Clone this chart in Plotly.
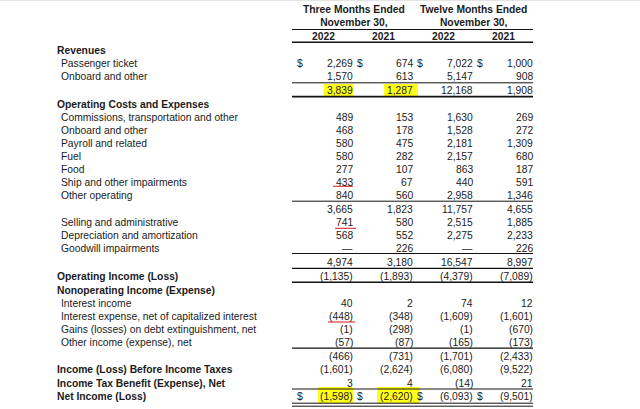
import plotly.graph_objects as go

# ---------------- data ----------------
row_labels = [
    "Revenues", "Passenger ticket", "Onboard and other", "",
    "Operating Costs and Expenses", "Commissions, transportation and other",
    "Onboard and other", "Payroll and related", "Fuel", "Food",
    "Ship and other impairments", "Other operating", "",
    "Selling and administrative", "Depreciation and amortization",
    "Goodwill impairments", "", "Operating Income (Loss)",
    "Nonoperating Income (Expense)", "Interest income",
    "Interest expense, net of capitalized interest",
    "Gains (losses) on debt extinguishment, net",
    "Other income (expense), net", "",
    "Income (Loss) Before Income Taxes",
    "Income Tax Benefit (Expense), Net", "Net Income (Loss)",
]
bold_rows = {"Revenues", "Operating Costs and Expenses", "Operating Income (Loss)",
             "Nonoperating Income (Expense)", "Income (Loss) Before Income Taxes",
             "Income Tax Benefit (Expense), Net", "Net Income (Loss)"}

q_2022 = [None, 2269, 1570, 3839, None, 489, 468, 580, 580, 277, 433, 840, 3665,
          741, 568, "-", 4974, -1135, None, 40, -448, -1, -57, -466, -1601, 3, -1598]
q_2021 = [None, 674, 613, 1287, None, 153, 178, 475, 282, 107, 67, 560, 1823,
          580, 552, 226, 3180, -1893, None, 2, -348, -298, -87, -731, -2624, 4, -2620]
fy_2022 = [None, 7022, 5147, 12168, None, 1630, 1528, 2181, 2157, 863, 440, 2958, 11757,
           2515, 2275, "-", 16547, -4379, None, 74, -1609, -1, -165, -1701, -6080, -14, -6093]
fy_2021 = [None, 1000, 908, 1908, None, 269, 272, 1309, 680, 187, 591, 1346, 4655,
           1885, 2233, 226, 8997, -7089, None, 12, -1601, -670, -173, -2433, -9522, 21, -9501]

period_headers = ["Three Months Ended<br>November 30,", "Twelve Months Ended<br>November 30,"]
year_labels = ["2022", "2021", "2022", "2021"]

# ---------------- layout constants ----------------
W, H = 640, 409
row_y = [50.7, 63, 76.8, 90.2, 104, 117, 130, 143, 156.2, 169.3, 182.4, 195.7, 209,
         222.2, 235.3, 248.4, 262, 276, 290, 303, 316.2, 329.3, 342.4, 356, 369.3, 383, 396.8]
col_right = [352.5, 412.5, 472.5, 532.5]
col_center_year = [323.5, 383.5, 443.5, 503.5]
FONT = "Liberation Sans, Arial, sans-serif"
FS = 10.3
INK = "#1b1b1b"

def fmt(v):
    if v is None:
        return None
    if v == "-":
        return "\u2014"
    if v < 0:
        return "({:,})".format(-v)
    return "{:,}".format(v)

ann = []
def text(x, y, s, anchor="left", bold=False, size=FS):
    ann.append(dict(x=x, y=y, xref="x", yref="y", text=("<b>%s</b>" % s) if bold else s,
                    showarrow=False, xanchor=anchor, yanchor="middle",
                    font=dict(family=FONT, size=size, color=INK),
                    borderpad=0, borderwidth=0))

shapes = []
def hline(y, x0=292, x1=533, w=1.0, color="#111111"):
    shapes.append(dict(type="line", xref="x", yref="y", x0=x0, x1=x1, y0=y, y1=y,
                       line=dict(color=color, width=w), layer="above"))
def rect(x0, x1, y0, y1, color="#ffff1a"):
    shapes.append(dict(type="rect", xref="x", yref="y", x0=x0, x1=x1, y0=y0, y1=y1,
                       fillcolor=color, line=dict(width=0), layer="below"))

# highlights
rect(323.5, 353.5, 84, 97)
rect(384, 418, 84, 97)
rect(318, 353, 387, 403)
rect(377, 420, 387, 403)

# headers
for i, h in enumerate(period_headers):
    ann.append(dict(x=[354, 473.5][i], y=16, xref="x", yref="y", text="<b>%s</b>" % h,
                    showarrow=False, xanchor="center", yanchor="middle", align="center",
                    font=dict(family=FONT, size=FS, color=INK), borderpad=0, borderwidth=0))
for cx, yl in zip(col_center_year, year_labels):
    text(cx, 36, yl, anchor="center", bold=True)

# row labels
for y, lab in zip(row_y, row_labels):
    if not lab:
        continue
    if lab in bold_rows:
        text(56.5, y, lab, bold=True)
    else:
        text(61, y, lab)

# values
for ci, col in enumerate([q_2022, q_2021, fy_2022, fy_2021]):
    for y, v in zip(row_y, col):
        s = fmt(v)
        if s is not None:
            text(col_right[ci], y, s, anchor="right")

# dollar signs on first revenue row and net income row
for y in (row_y[1], row_y[26]):
    for x in (297, 357, 417, 477):
        text(x, y, "$")

# rules
hline(29.5, w=1.0)
hline(42.3, w=1.6)
hline(82.8, w=1.0)
hline(96.6, w=1.6)
hline(201.2, w=1.0)
hline(253.5, w=1.2)
hline(268.3, w=1.2)
hline(282.2, w=1.4)
hline(348.2, w=1.2)
hline(389, w=1.0)
hline(403.2, w=1.0)
hline(406.2, w=1.0)
hline(0.5, x0=0, x1=640, w=1.0, color="#e4e4e4")

# red underlines
hline(186.3, x0=333, x1=353, w=1.1, color="#e02828")
hline(228.3, x0=335, x1=356, w=1.1, color="#e02828")
hline(322, x0=328, x1=355, w=1.1, color="#e02828")

fig = go.Figure(go.Scatter(x=[0, W], y=[0, H], mode="markers", marker=dict(opacity=0),
                           hoverinfo="skip", showlegend=False))
fig.update_layout(
    width=W, height=H, margin=dict(l=0, r=0, t=0, b=0),
    paper_bgcolor="white", plot_bgcolor="white",
    xaxis=dict(range=[0, W], visible=False, fixedrange=True),
    yaxis=dict(range=[H, 0], visible=False, fixedrange=True),
    annotations=ann, shapes=shapes, showlegend=False,
)
fig.write_html("out.html", config={"displayModeBar": False},
               post_script="document.body.style.margin='0';document.body.style.overflow='hidden';")
